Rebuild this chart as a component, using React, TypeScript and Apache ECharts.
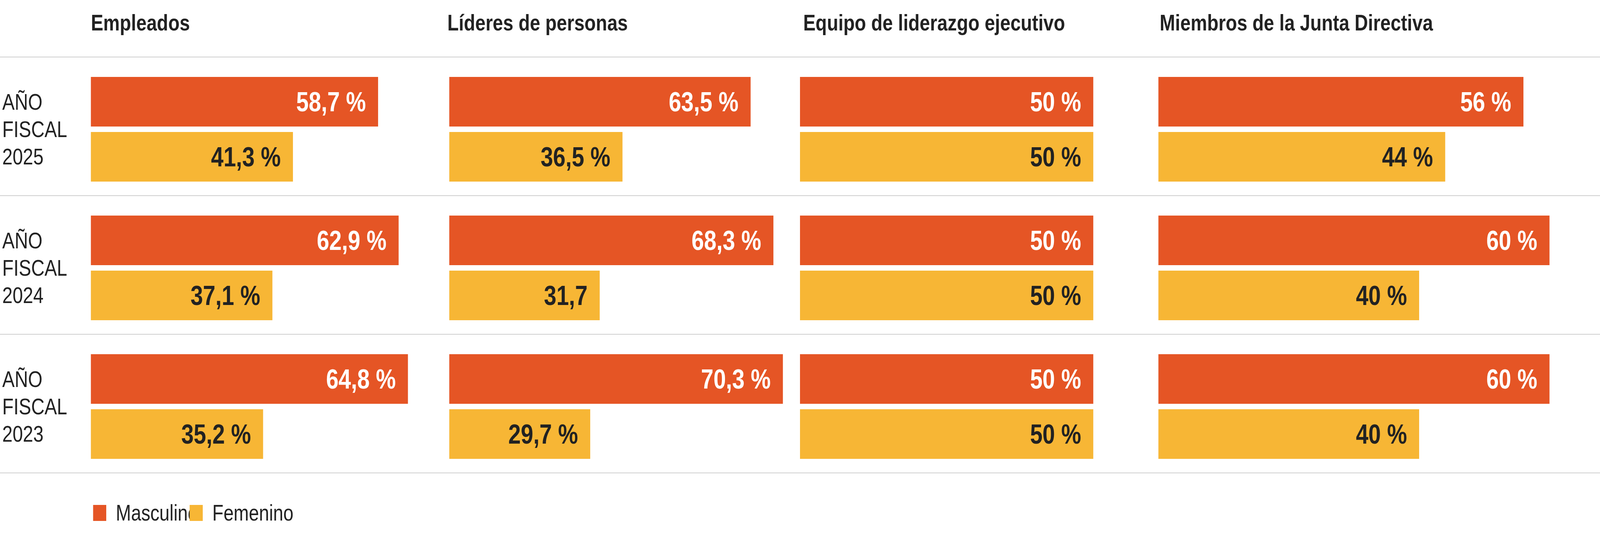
import React, { useEffect, useRef, useState } from "react";
import * as echarts from "echarts";

// ---------- data ----------
const years = ["AÑO\nFISCAL\n2025", "AÑO\nFISCAL\n2024", "AÑO\nFISCAL\n2023"];
const panelTitles = [
  "Empleados",
  "Líderes de personas",
  "Equipo de liderazgo ejecutivo",
  "Miembros de la Junta Directiva",
];
const seriesNames = ["Masculino", "Femenino"];
const empleadosMasculino = [58.7, 62.9, 64.8];
const empleadosFemenino = [41.3, 37.1, 35.2];
const lideresMasculino = [63.5, 68.3, 70.3];
const lideresFemenino = [36.5, 31.7, 29.7];
const equipoMasculino = [50, 50, 50];
const equipoFemenino = [50, 50, 50];
const juntaMasculino = [56, 60, 60];
const juntaFemenino = [44, 40, 40];
// the source prints this one label without its percent sign
const labelsWithoutPercent = [{ panel: 1, series: 1, row: 1 }];

// ---------- layout / style (design space 5000 x 1370) ----------
const DESIGN_W = 5000;
const DESIGN_H = 1370;
const FONT = "'Liberation Sans', Arial, Helvetica, sans-serif";
const COLORS = ["#E55525", "#F7B635"];
const LABEL_COLORS = ["#FFFFFF", "#222222"];
const panelLeft = [284, 1404, 2500, 3620];
const titleLeft = [284, 1398, 2510, 3624];
const pxPerPct = [15.29, 14.83, 18.33, 20.37];
const dividerY = [146, 501, 856, 1211];
const GRID_TOP = 153.5;
const GRID_HEIGHT = 1065;

const panelData = [
  [empleadosMasculino, empleadosFemenino],
  [lideresMasculino, lideresFemenino],
  [equipoMasculino, equipoFemenino],
  [juntaMasculino, juntaFemenino],
];

function fmt(v: number) {
  return String(v).replace(".", ",");
}

export default function App() {
  const ref = useRef<HTMLDivElement>(null);
  const [scale, setScale] = useState<[number, number]>([1, 1]);

  useEffect(() => {
    const upd = () =>
      setScale([window.innerWidth / DESIGN_W, window.innerHeight / DESIGN_H]);
    upd();
    window.addEventListener("resize", upd);
    return () => window.removeEventListener("resize", upd);
  }, []);

  useEffect(() => {
    if (!ref.current) return;
    const chart = echarts.init(ref.current, undefined, { renderer: "svg" });

    const grids: any[] = [];
    const xAxes: any[] = [];
    const yAxes: any[] = [];
    const series: any[] = [];
    const titles: any[] = [];

    panelData.forEach((pair, p) => {
      const maxVal = Math.max(...pair[0], ...pair[1]);
      grids.push({
        left: panelLeft[p],
        top: GRID_TOP,
        width: maxVal * pxPerPct[p],
        height: GRID_HEIGHT,
        containLabel: false,
      });
      xAxes.push({
        type: "value",
        gridIndex: p,
        min: 0,
        max: maxVal,
        show: false,
      });
      yAxes.push({
        type: "category",
        gridIndex: p,
        inverse: true,
        data: years,
        axisLine: { show: false },
        axisTick: { show: false },
        splitLine: { show: false },
        axisLabel: {
          show: p === 0,
          align: "left",
          margin: 277,
          fontSize: 58,
          lineHeight: 70,
          color: "#222",
          fontFamily: FONT,
        },
      });
      titles.push({
        text: panelTitles[p],
        left: titleLeft[p],
        top: 29,
        padding: 0,
        textStyle: {
          fontSize: 58,
          fontWeight: "bold",
          color: "#222",
          fontFamily: FONT,
        },
      });
      pair.forEach((vals, s) => {
        series.push({
          type: "bar",
          name: seriesNames[s],
          xAxisIndex: p,
          yAxisIndex: p,
          barWidth: 127,
          barGap: "11%",
          silent: true,
          itemStyle: { color: COLORS[s] },
          label: {
            show: true,
            position: "insideRight",
            distance: 38,
            fontSize: 70,
            fontWeight: "bold",
            fontFamily: FONT,
            color: LABEL_COLORS[s],
          },
          data: vals.map((v, row) => {
            const noPct = labelsWithoutPercent.some(
              (e) => e.panel === p && e.series === s && e.row === row
            );
            return {
              value: v,
              label: { formatter: noPct ? fmt(v) : fmt(v) + " %" },
            };
          }),
        });
      });
    });

    const option: any = {
      animation: false,
      backgroundColor: "#ffffff",
      textStyle: { fontFamily: FONT },
      title: titles,
      grid: grids,
      xAxis: xAxes,
      yAxis: yAxes,
      legend: {
        data: seriesNames,
        left: 291,
        top: 1285,
        orient: "horizontal",
        icon: "rect",
        itemWidth: 41,
        itemHeight: 41,
        itemGap: -26,
        selectedMode: false,
        padding: 0,
        textStyle: {
          fontSize: 57,
          color: "#222",
          fontFamily: FONT,
          padding: [0, 0, 0, 25],
        },
      },
      graphic: dividerY.map((y) => ({
        type: "line",
        shape: { x1: 0, y1: y, x2: DESIGN_W, y2: y },
        style: { stroke: "#cfcfcf", lineWidth: 2 },
        silent: true,
        z: 0,
      })),
      series,
    };
    chart.setOption(option);
    return () => chart.dispose();
  }, []);

  return (
    <div
      style={{
        position: "fixed",
        left: 0,
        top: 0,
        width: DESIGN_W,
        height: DESIGN_H,
        transform: `scale(${scale[0]}, ${scale[1]})`,
        transformOrigin: "0 0",
        background: "#fff",
      }}
    >
      <div ref={ref} style={{ width: DESIGN_W, height: DESIGN_H }} />
    </div>
  );
}
